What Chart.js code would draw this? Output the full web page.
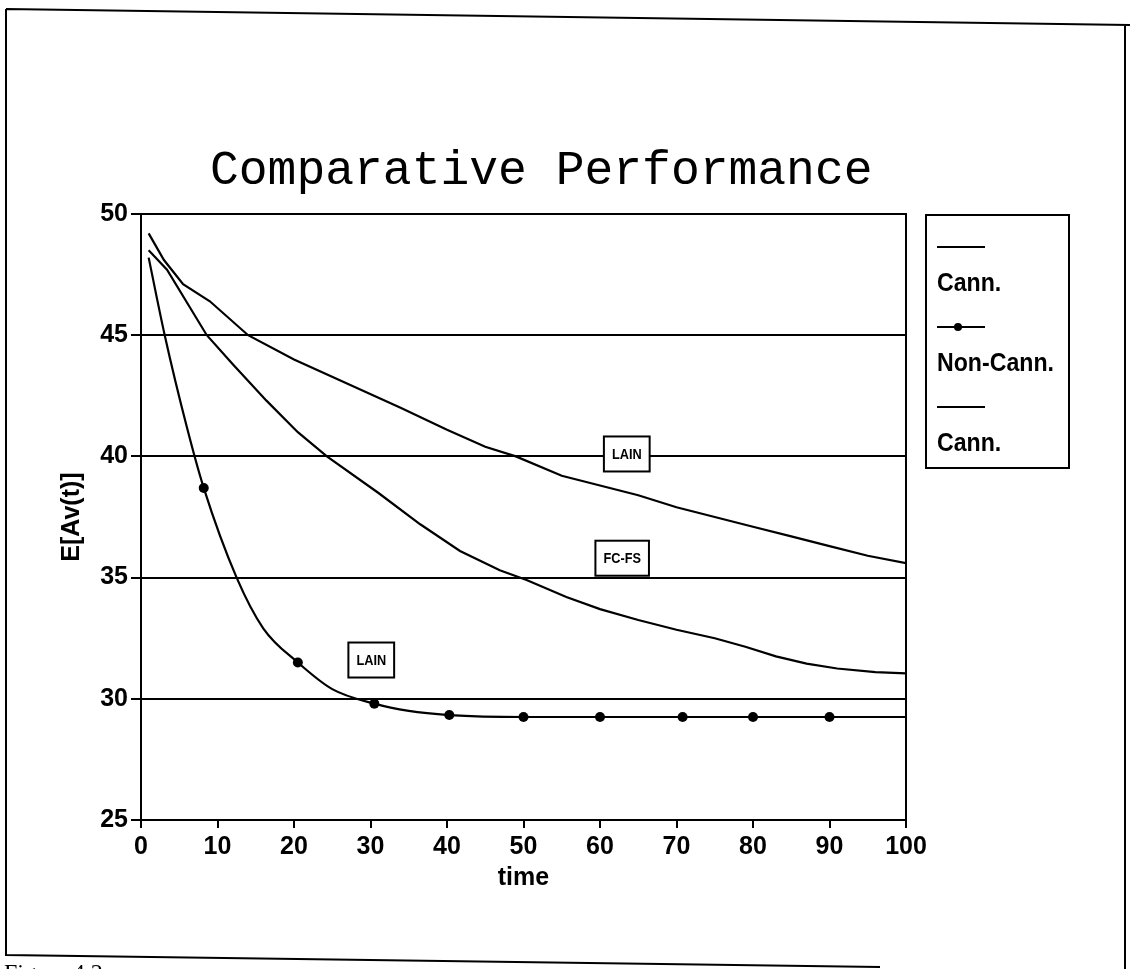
<!DOCTYPE html>
<html>
<head>
<meta charset="utf-8">
<script src="https://cdn.jsdelivr.net/npm/chart.js@4.4.0/dist/chart.umd.min.js"></script>
<style>
html, body { margin: 0; padding: 0; background: #fff; }
#wrap { width: 1130px; height: 969px; position: relative; }
</style>
</head>
<body>
<div id="wrap"><canvas id="chart"></canvas></div>
<script>
// values
var cannLainTime   = [1, 3, 5.5, 9, 14, 20, 27, 34, 40, 45, 49, 55, 60, 65, 70, 75, 80, 85, 90, 95, 100];
var cannLainValues = [49.2, 48.1, 47.1, 46.4, 45.0, 44.0, 43.0, 42.0, 41.1, 40.4, 40.0, 39.2, 38.8, 38.4, 37.9, 37.5, 37.1, 36.7, 36.3, 35.9, 35.6];

var nonCannTime   = [1, 3.1, 6, 8.2, 12.5, 16, 20.5, 25, 30.5, 35, 40.3, 50, 60, 70.8, 80, 90, 100];
var nonCannValues = [48.2, 45.0, 41.2, 38.7, 35.0, 32.9, 31.5, 30.4, 29.8, 29.5, 29.33, 29.25, 29.25, 29.25, 29.25, 29.25, 29.25];
var nonCannMarked = [8.2, 20.5, 30.5, 40.3, 50, 60, 70.8, 80, 90];

var fcfsTime   = [1, 3.4, 8.6, 12, 16.4, 20.5, 24.3, 31, 36.5, 41.7, 46.9, 50.4, 55.6, 60, 65, 70, 75, 79, 83, 87, 91, 96, 100];
var fcfsValues = [48.5, 47.7, 45.0, 43.8, 42.3, 41.0, 40.0, 38.5, 37.2, 36.1, 35.3, 34.9, 34.2, 33.7, 33.25, 32.85, 32.5, 32.15, 31.75, 31.45, 31.25, 31.1, 31.05];

var seriesNames = ["Cann.", "Non-Cann.", "Cann."];

var boxLabels = ["LAIN", "FC-FS", "LAIN"];
var boxTime   = [63.5, 62.9, 30.1];
var boxValue  = [40.1, 35.8, 31.6];

var sans = '"Liberation Sans", Arial, sans-serif';

function toPoints(times, values) {
    var pts = [];
    for (var i = 0; i < times.length; i++) {
        pts.push({x: times[i], y: values[i]});
    }
    return pts;
}

// narrow text by squeezing the canvas horizontally
function squeezedText(ctx, text, x, y, sx) {
    ctx.save();
    ctx.translate(x, y);
    ctx.scale(sx, 1);
    ctx.fillText(text, 0, 0);
    ctx.restore();
}

var pagePlugin = {
    id: "page",
    beforeDraw: function(chart) {
        var ctx = chart.ctx;
        ctx.save();
        ctx.fillStyle = "#fff";
        ctx.fillRect(0, 0, chart.width, chart.height);
        // scanned outer frame
        ctx.strokeStyle = "#000";
        ctx.lineWidth = 2;
        ctx.beginPath();
        ctx.moveTo(6, 9);
        ctx.lineTo(1130, 25);
        ctx.moveTo(6, 9);
        ctx.lineTo(6, 955);
        ctx.lineTo(880, 967);
        ctx.moveTo(1125, 25);
        ctx.lineTo(1125, 969);
        ctx.stroke();
        // title
        ctx.fillStyle = "#000";
        ctx.font = '48px "Liberation Mono", "DejaVu Sans Mono", monospace';
        ctx.textBaseline = "alphabetic";
        ctx.fillText("Comparative Performance", 210, 184);
        // cut caption
        ctx.font = '24px "Liberation Serif", serif';
        ctx.fillText("Figure 4.2", 4, 980);
        ctx.restore();
    },
    afterDatasetsDraw: function(chart) {
        var ctx = chart.ctx;
        var a = chart.chartArea;
        var xs = chart.scales.x, ys = chart.scales.y;
        ctx.save();
        ctx.strokeStyle = "#000";
        ctx.lineWidth = 2;
        ctx.strokeRect(a.left, a.top, a.right - a.left, a.bottom - a.top);

        // boxed labels on the curves
        ctx.font = "bold 15px " + sans;
        ctx.textBaseline = "middle";
        ctx.textAlign = "left";
        for (var i = 0; i < boxLabels.length; i++) {
            var px = xs.getPixelForValue(boxTime[i]);
            var py = ys.getPixelForValue(boxValue[i]);
            var tw = ctx.measureText(boxLabels[i]).width * 0.85;
            var w = tw + 16;
            var h = 35;
            ctx.fillStyle = "#fff";
            ctx.fillRect(px - w / 2, py - h / 2, w, h);
            ctx.strokeRect(px - w / 2, py - h / 2, w, h);
            ctx.fillStyle = "#000";
            squeezedText(ctx, boxLabels[i], px - tw / 2, py + 1, 0.85);
        }

        // legend box, line sample above each name
        var lx = 926, ly = 215, lw = 143, lh = 253;
        ctx.fillStyle = "#fff";
        ctx.fillRect(lx, ly, lw, lh);
        ctx.strokeRect(lx, ly, lw, lh);
        ctx.font = "bold 26px " + sans;
        ctx.textBaseline = "middle";
        var sets = chart.data.datasets;
        for (var k = 0; k < sets.length; k++) {
            var sy = 247 + k * 80;
            ctx.strokeStyle = sets[k].borderColor;
            ctx.lineWidth = 2;
            ctx.beginPath();
            ctx.moveTo(937, sy);
            ctx.lineTo(985, sy);
            ctx.stroke();
            if (sets[k].label === "Non-Cann.") {
                ctx.fillStyle = "#000";
                ctx.beginPath();
                ctx.arc(958, sy, 4, 0, Math.PI * 2);
                ctx.fill();
            }
            ctx.fillStyle = "#000";
            squeezedText(ctx, sets[k].label, 937, sy + 37, 0.89);
        }
        ctx.restore();
    }
};

Chart.defaults.color = "#000";
Chart.defaults.font.family = sans;

var ctx = document.getElementById("chart");
var chart = new Chart(ctx, {
    type: "line",
    data: {
        datasets: [
            {
                label: seriesNames[0],
                data: toPoints(cannLainTime, cannLainValues),
                borderColor: "#000",
                borderWidth: 2.2,
                pointRadius: 0,
                tension: 0
            },
            {
                label: seriesNames[1],
                data: toPoints(nonCannTime, nonCannValues),
                borderColor: "#000",
                backgroundColor: "#000",
                borderWidth: 2.2,
                cubicInterpolationMode: "monotone",
                pointRadius: function(c) {
                    return nonCannMarked.indexOf(c.raw.x) >= 0 ? 5 : 0;
                },
                pointBorderWidth: 0
            },
            {
                label: seriesNames[2],
                data: toPoints(fcfsTime, fcfsValues),
                borderColor: "#000",
                borderWidth: 2.2,
                pointRadius: 0,
                tension: 0
            }
        ]
    },
    options: {
        responsive: true,
        maintainAspectRatio: false,
        animation: false,
        layout: {
            padding: {left: 0, top: 214, right: 224, bottom: 59}
        },
        plugins: {
            legend: {display: false},
            title: {display: false},
            tooltip: {enabled: false}
        },
        scales: {
            x: {
                type: "linear",
                min: 0,
                max: 100,
                ticks: {stepSize: 10, padding: 4, maxRotation: 0, font: {size: 25, weight: "bold"}},
                grid: {drawOnChartArea: false, drawTicks: true, tickLength: 8, color: "#000", lineWidth: 2},
                border: {color: "#000", width: 2},
                title: {display: true, text: "time", font: {size: 25, weight: "bold"}, padding: {top: 0, bottom: 17}},
                afterFit: function(scale) { scale.height = 90; }
            },
            y: {
                min: 25,
                max: 50,
                ticks: {stepSize: 5, padding: 3, font: {size: 25, weight: "bold"}},
                grid: {color: "#000", lineWidth: 2, drawTicks: true, tickLength: 10},
                border: {color: "#000", width: 2},
                title: {display: true, text: "E[Av(t)]", font: {size: 25, weight: "bold"}, padding: {top: 57, bottom: 0}},
                afterFit: function(scale) { scale.width = 141; }
            }
        }
    },
    plugins: [pagePlugin]
});
</script>
</body>
</html>
